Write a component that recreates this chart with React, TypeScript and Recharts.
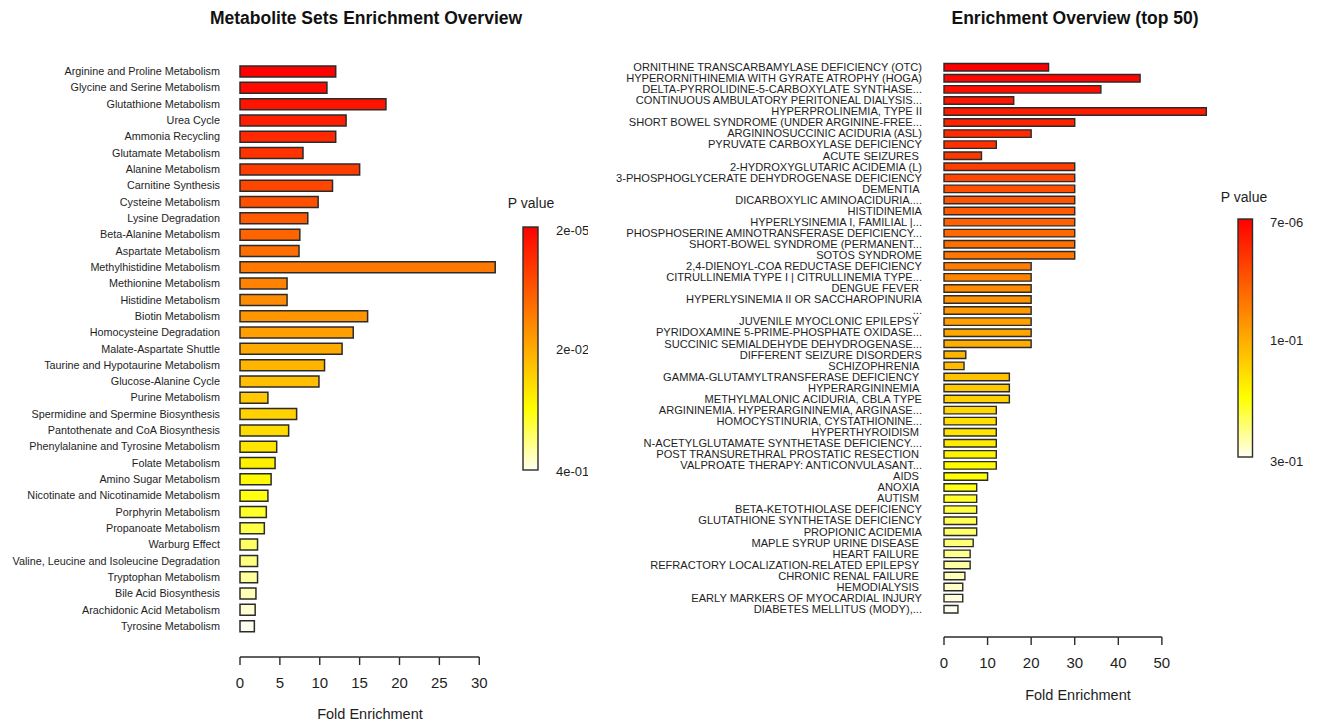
import React from 'react';
import { BarChart, Bar, XAxis, YAxis, Cell } from 'recharts';

const leftTitle = 'Metabolite Sets Enrichment Overview';
const rightTitle = 'Enrichment Overview (top 50)';

const leftPathways = [
  'Arginine and Proline Metabolism',
  'Glycine and Serine Metabolism',
  'Glutathione Metabolism',
  'Urea Cycle',
  'Ammonia Recycling',
  'Glutamate Metabolism',
  'Alanine Metabolism',
  'Carnitine Synthesis',
  'Cysteine Metabolism',
  'Lysine Degradation',
  'Beta-Alanine Metabolism',
  'Aspartate Metabolism',
  'Methylhistidine Metabolism',
  'Methionine Metabolism',
  'Histidine Metabolism',
  'Biotin Metabolism',
  'Homocysteine Degradation',
  'Malate-Aspartate Shuttle',
  'Taurine and Hypotaurine Metabolism',
  'Glucose-Alanine Cycle',
  'Purine Metabolism',
  'Spermidine and Spermine Biosynthesis',
  'Pantothenate and CoA Biosynthesis',
  'Phenylalanine and Tyrosine Metabolism',
  'Folate Metabolism',
  'Amino Sugar Metabolism',
  'Nicotinate and Nicotinamide Metabolism',
  'Porphyrin Metabolism',
  'Propanoate Metabolism',
  'Warburg Effect',
  'Valine, Leucine and Isoleucine Degradation',
  'Tryptophan Metabolism',
  'Bile Acid Biosynthesis',
  'Arachidonic Acid Metabolism',
  'Tyrosine Metabolism',
];

const leftFold = [
  12.0, 10.9, 18.3, 13.3, 12.0, 7.9, 15.0, 11.6, 9.8, 8.5, 7.5, 7.4, 32.0, 5.9, 5.9,
  16.0, 14.2, 12.8, 10.6, 9.9, 3.5, 7.1, 6.1, 4.6, 4.4, 3.9, 3.5, 3.3, 3.05, 2.2,
  2.2, 2.2, 2.0, 1.9, 1.8,
];

const rightConditions = [
  'ORNITHINE TRANSCARBAMYLASE DEFICIENCY (OTC)',
  'HYPERORNITHINEMIA WITH GYRATE ATROPHY (HOGA)',
  'DELTA-PYRROLIDINE-5-CARBOXYLATE SYNTHASE...',
  'CONTINUOUS AMBULATORY PERITONEAL DIALYSIS...',
  'HYPERPROLINEMIA, TYPE II',
  'SHORT BOWEL SYNDROME (UNDER ARGININE-FREE...',
  'ARGININOSUCCINIC ACIDURIA (ASL)',
  'PYRUVATE CARBOXYLASE DEFICIENCY',
  'ACUTE SEIZURES ',
  '2-HYDROXYGLUTARIC ACIDEMIA (L)',
  '3-PHOSPHOGLYCERATE DEHYDROGENASE DEFICIENCY',
  'DEMENTIA ',
  'DICARBOXYLIC AMINOACIDURIA....',
  'HISTIDINEMIA',
  'HYPERLYSINEMIA I, FAMILIAL |...',
  'PHOSPHOSERINE AMINOTRANSFERASE DEFICIENCY...',
  'SHORT-BOWEL SYNDROME (PERMANENT...',
  'SOTOS SYNDROME',
  '2,4-DIENOYL-COA REDUCTASE DEFICIENCY',
  'CITRULLINEMIA TYPE I | CITRULLINEMIA TYPE...',
  'DENGUE FEVER ',
  'HYPERLYSINEMIA II OR SACCHAROPINURIA',
  '...',
  'JUVENILE MYOCLONIC EPILEPSY ',
  'PYRIDOXAMINE 5-PRIME-PHOSPHATE OXIDASE...',
  'SUCCINIC SEMIALDEHYDE DEHYDROGENASE...',
  'DIFFERENT SEIZURE DISORDERS',
  'SCHIZOPHRENIA ',
  'GAMMA-GLUTAMYLTRANSFERASE DEFICIENCY ',
  'HYPERARGININEMIA ',
  'METHYLMALONIC ACIDURIA, CBLA TYPE',
  'ARGININEMIA. HYPERARGININEMIA, ARGINASE...',
  'HOMOCYSTINURIA, CYSTATHIONINE...',
  'HYPERTHYROIDISM ',
  'N-ACETYLGLUTAMATE SYNTHETASE DEFICIENCY....',
  'POST TRANSURETHRAL PROSTATIC RESECTION ',
  'VALPROATE THERAPY: ANTICONVULASANT...',
  'AIDS ',
  'ANOXIA ',
  'AUTISM ',
  'BETA-KETOTHIOLASE DEFICIENCY',
  'GLUTATHIONE SYNTHETASE DEFICIENCY',
  'PROPIONIC ACIDEMIA',
  'MAPLE SYRUP URINE DISEASE ',
  'HEART FAILURE ',
  'REFRACTORY LOCALIZATION-RELATED EPILEPSY ',
  'CHRONIC RENAL FAILURE ',
  'HEMODIALYSIS ',
  'EARLY MARKERS OF MYOCARDIAL INJURY',
  'DIABETES MELLITUS (MODY),...',
];

const rightFold = [
  24, 45, 36, 16, 60.2, 30, 20, 12, 8.6, 30,
  30, 30, 30, 30, 30, 30, 30, 30, 20, 20,
  20, 20, 20, 20, 20, 20, 5.0, 4.6, 15, 15,
  15, 12, 12, 12, 12, 12, 12, 10, 7.5, 7.5,
  7.5, 7.5, 7.5, 6.7, 6.0, 6.0, 4.8, 4.3, 4.3, 3.2,
];

const leftTicks = [0, 5, 10, 15, 20, 25, 30];
const rightTicks = [0, 10, 20, 30, 40, 50];
const leftLegendLabels = ['2e-05', '2e-02', '4e-01'];
const rightLegendLabels = ['7e-06', '1e-01', '3e-01'];

const FONT = '"Liberation Sans", Arial, Helvetica, sans-serif';
const TICK_SIZE = 8;
const TICK_MARGIN = 12;
const EDGE = '#2b2b2b';

function heat(t: number): string {
  if (t <= 0.75) {
    const h = (t / 0.75) * 60;
    return `hsl(${h.toFixed(1)},100%,50%)`;
  }
  const s = 1 - ((t - 0.75) / 0.25) * 0.94;
  const b = Math.round((1 - s) * 255);
  return `rgb(255,255,${b})`;
}

const leftData = leftPathways.map((name, i) => ({ name, fold: leftFold[i] }));
const rightData = rightConditions.map((name, i) => ({ name, fold: rightFold[i] }));

const RowTick = (props: any) => {
  const { x, y, payload, fs } = props;
  return (
    <text
      x={x}
      y={y}
      textAnchor="end"
      dominantBaseline="central"
      fontSize={fs}
      fill="#1e1e1e"
      fontFamily={FONT}
      style={{ whiteSpace: 'pre' }}
    >
      {payload.value}
    </text>
  );
};

// R-style axis: tick marks pointing down, axis line running only between the first and last tick.
function makeAxisTick() {
  const coords: Record<number, number> = {};
  return (props: any) => {
    const { x, y, payload, index } = props;
    coords[index] = x;
    const axisY = y - TICK_SIZE - TICK_MARGIN;
    const prev = index > 0 ? coords[index - 1] : undefined;
    return (
      <g>
        {prev !== undefined && (
          <line x1={prev} x2={x} y1={axisY} y2={axisY} stroke={EDGE} strokeWidth={1.4} />
        )}
        <line x1={x} x2={x} y1={axisY} y2={axisY + TICK_SIZE} stroke={EDGE} strokeWidth={1.4} />
        <text x={x} y={y} dy="0.71em" textAnchor="middle" fontSize={15} fill="#1e1e1e" fontFamily={FONT}>
          {payload.value}
        </text>
      </g>
    );
  };
}

const leftAxisTick = makeAxisTick();
const rightAxisTick = makeAxisTick();

const gradStops = Array.from({ length: 21 }, (_, i) => i / 20);

const ColorBar = ({ id, x, y, w, h }: { id: string; x: number; y: number; w: number; h: number }) => (
  <g>
    <defs>
      <linearGradient id={id} x1="0" y1="0" x2="0" y2="1">
        {gradStops.map((t) => (
          <stop key={t} offset={`${t * 100}%`} stopColor={heat(t)} />
        ))}
      </linearGradient>
    </defs>
    <rect x={x} y={y} width={w} height={h} fill={`url(#${id})`} stroke={EDGE} strokeWidth={1.4} />
  </g>
);

export default function App() {
  return (
    <div
      style={{
        position: 'absolute',
        left: 0,
        top: 0,
        width: 1320,
        height: 722,
        background: '#fff',
        fontFamily: FONT,
        overflow: 'hidden',
      }}
    >
      <div style={{ position: 'absolute', left: 0, top: 0, width: 588, height: 722, overflow: 'hidden' }}>
        <BarChart
          width={588}
          height={722}
          data={leftData}
          layout="vertical"
          margin={{ top: 63, right: 88, bottom: 0, left: 0 }}
        >
          <XAxis
            type="number"
            domain={[0, 32.6]}
            ticks={leftTicks}
            interval={0}
            axisLine={false}
            tickLine={false}
            tickSize={TICK_SIZE}
            tickMargin={TICK_MARGIN}
            height={65}
            tick={leftAxisTick}
            label={{ value: 'Fold Enrichment', position: 'insideBottom', offset: 3, fontSize: 14.5, fill: '#1e1e1e', fontFamily: FONT }}
          />
          <YAxis
            type="category"
            dataKey="name"
            width={240}
            interval={0}
            tickLine={false}
            axisLine={false}
            tickSize={0}
            tickMargin={20}
            padding={{ top: 0, bottom: 23 }}
            tick={(p: any) => <RowTick {...p} fs={10.8} />}
          />
          <Bar dataKey="fold" isAnimationActive={false} stroke={EDGE} strokeWidth={1.5} barSize={11}>
            {leftData.map((d, i) => (
              <Cell key={d.name} fill={heat(i / (leftData.length - 1))} />
            ))}
          </Bar>
        </BarChart>
      </div>

      <div style={{ position: 'absolute', left: 590, top: 0, width: 730, height: 722 }}>
        <BarChart
          width={730}
          height={722}
          data={rightData}
          layout="vertical"
          margin={{ top: 61.5, right: 108, bottom: 20, left: 0 }}
        >
          <XAxis
            type="number"
            domain={[0, 61.5]}
            ticks={rightTicks}
            interval={0}
            axisLine={false}
            tickLine={false}
            tickSize={TICK_SIZE}
            tickMargin={TICK_MARGIN}
            height={65}
            tick={rightAxisTick}
            label={{ value: 'Fold Enrichment', position: 'insideBottom', offset: 2, fontSize: 14.5, fill: '#1e1e1e', fontFamily: FONT }}
          />
          <YAxis
            type="category"
            dataKey="name"
            width={354}
            interval={0}
            tickLine={false}
            axisLine={false}
            tickSize={0}
            tickMargin={22}
            padding={{ top: 0, bottom: 22.5 }}
            tick={(p: any) => <RowTick {...p} fs={11.1} />}
          />
          <Bar dataKey="fold" isAnimationActive={false} stroke={EDGE} strokeWidth={1.4} barSize={7.5}>
            {rightData.map((d, i) => (
              <Cell key={d.name} fill={heat(i / (rightData.length - 1))} />
            ))}
          </Bar>
        </BarChart>
      </div>

      <svg
        width={1320}
        height={722}
        style={{ position: 'absolute', left: 0, top: 0, pointerEvents: 'none' }}
        fontFamily={FONT}
      >
        <text x={366} y={18} textAnchor="middle" dominantBaseline="central" fontSize={17.5} fontWeight="bold" fill="#111">
          {leftTitle}
        </text>
        <text x={1075} y={18} textAnchor="middle" dominantBaseline="central" fontSize={17.5} fontWeight="bold" fill="#111">
          {rightTitle}
        </text>

        <text x={531} y={203} textAnchor="middle" dominantBaseline="central" fontSize={14} fill="#1e1e1e">
          P value
        </text>
        <ColorBar id="gradL" x={523} y={227} w={15} h={243} />
        <svg x={0} y={0} width={588} height={722}>
          {leftLegendLabels.map((lab, i) => (
            <text key={lab + i} x={556} y={[230, 349, 471][i]} dominantBaseline="central" fontSize={13} fill="#1e1e1e">
              {lab}
            </text>
          ))}
        </svg>

        <text x={1244} y={197} textAnchor="middle" dominantBaseline="central" fontSize={14} fill="#1e1e1e">
          P value
        </text>
        <ColorBar id="gradR" x={1238} y={219} w={14.5} h={238} />
        {rightLegendLabels.map((lab, i) => (
          <text key={lab + i} x={1270} y={[222, 340, 461][i]} dominantBaseline="central" fontSize={13} fill="#1e1e1e">
            {lab}
          </text>
        ))}
      </svg>
    </div>
  );
}
